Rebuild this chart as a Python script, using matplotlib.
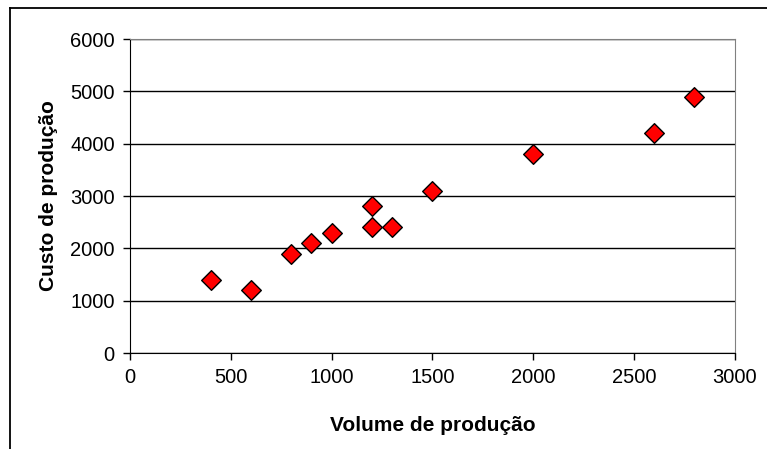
import matplotlib.pyplot as plt
from matplotlib.lines import Line2D

# ==============================
# DADOS
# ==============================
volume = [400, 600, 800, 900, 1000, 1200, 1200, 1300, 1500, 2000, 2600, 2800]
custo = [1400, 1200, 1900, 2100, 2300, 2800, 2400, 2400, 3100, 3800, 4200, 4900]

x_ticks = [0, 500, 1000, 1500, 2000, 2500, 3000]
y_ticks = [0, 1000, 2000, 3000, 4000, 5000, 6000]

plt.rcParams["font.family"] = ["Liberation Sans", "DejaVu Sans"]

# ==============================
# GRÁFICO
# ==============================
fig = plt.figure(figsize=(7.67, 4.49), dpi=100)
ax = fig.add_axes([0.1695, 0.2138, 0.7885, 0.6992])

ax.scatter(volume, custo, marker="D", s=100, color="#ff0000",
           edgecolors="black", linewidths=1.0, zorder=3)

ax.set_xlim(0, 3000)
ax.set_ylim(0, 6000)
ax.set_xticks(x_ticks)
ax.set_yticks(y_ticks)
ax.tick_params(axis="both", direction="out", length=5, width=1,
               labelsize=14.5, colors="black", pad=6)

ax.yaxis.grid(True, color="black", linewidth=1)
ax.set_axisbelow(True)

for lado in ["top", "right"]:
    ax.spines[lado].set_color("#808080")
for lado in ["left", "bottom"]:
    ax.spines[lado].set_color("black")

ax.set_xlabel("Volume de produção", fontsize=15, fontweight="bold", labelpad=21)
ax.set_ylabel("Custo de produção", fontsize=15, fontweight="bold", labelpad=9)

# moldura (apenas topo e esquerda visíveis)
fig.add_artist(Line2D([10 / 767, 1], [1 - 8 / 449, 1 - 8 / 449],
                      transform=fig.transFigure, color="black", linewidth=1.3))
fig.add_artist(Line2D([10 / 767, 10 / 767], [0, 1 - 8 / 449],
                      transform=fig.transFigure, color="black", linewidth=1.3))

fig.savefig("out.png", dpi=100)
